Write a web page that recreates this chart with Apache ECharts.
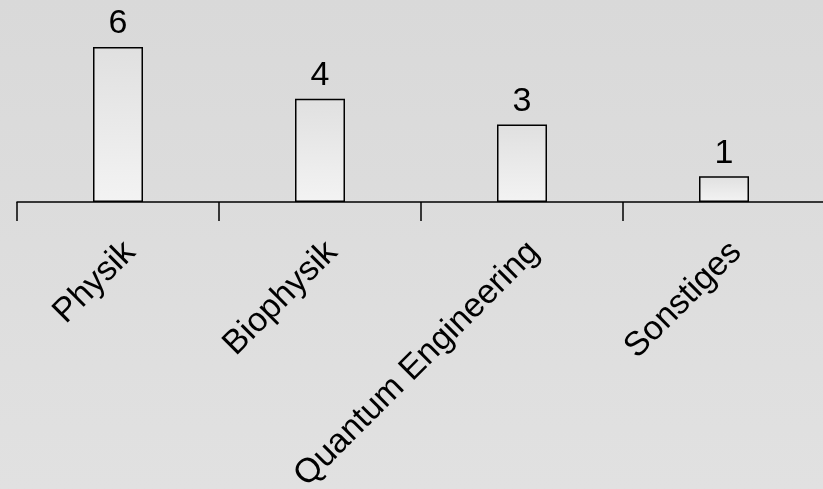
<!DOCTYPE html>
<html>
<head>
<meta charset="utf-8">
<script src="https://cdn.jsdelivr.net/npm/echarts@6/dist/echarts.min.js"></script>
<style>
  html, body { margin: 0; padding: 0; }
  #main { width: 823px; height: 489px; }
</style>
</head>
<body>
<div id="main"></div>
<script>
const categories = ['Physik', 'Biophysik', 'Quantum Engineering', 'Sonstiges'];
const counts = [6, 4, 3, 1];

const chart = echarts.init(document.getElementById('main'));
const option = {
  backgroundColor: new echarts.graphic.LinearGradient(0, 0, 0, 1, [
    { offset: 0, color: '#d9d9d9' },
    { offset: 1, color: '#e1e1e1' }
  ]),
  animation: false,
  grid: { left: 17, top: 47, width: 808, height: 155, outerBoundsMode: 'none', containLabel: false },
  xAxis: {
    type: 'category',
    data: categories,
    axisLine: { lineStyle: { color: '#000', width: 1.5 } },
    axisTick: { show: true, length: 19, lineStyle: { color: '#000', width: 1.5 } },
    axisLabel: {
      rotate: 45,
      interval: 0,
      margin: 57,
      padding: [0, -17, 0, 0],
      color: '#000',
      fontSize: 34,
      fontFamily: 'Liberation Sans, Arial, sans-serif'
    }
  },
  yAxis: { type: 'value', min: 0, max: 6, show: false },
  series: [{
    type: 'bar',
    data: counts,
    barWidth: 50,
    itemStyle: {
      borderColor: '#000',
      borderWidth: 1.5,
      color: new echarts.graphic.LinearGradient(0, 0, 0, 1, [
        { offset: 0, color: '#e0e0e0' },
        { offset: 1, color: '#f3f3f3' }
      ])
    },
    label: {
      show: true,
      position: 'top',
      distance: 6,
      color: '#000',
      fontSize: 34,
      fontFamily: 'Liberation Sans, Arial, sans-serif'
    }
  }]
};
chart.setOption(option);
</script>
</body>
</html>
